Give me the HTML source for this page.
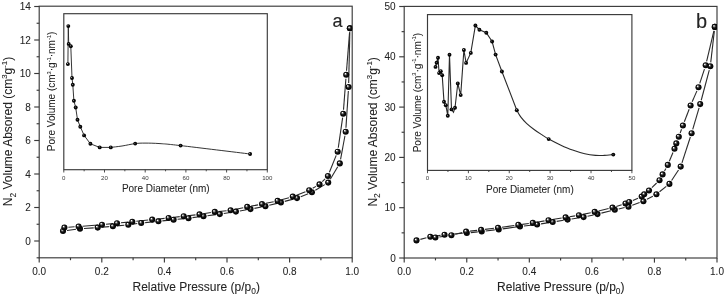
<!DOCTYPE html>
<html lang="en"><head><meta charset="utf-8"><title>N2 adsorption isotherms</title>
<style>html,body{margin:0;padding:0;background:#fff}svg{display:block}</style></head>
<body>
<svg width="725" height="295" viewBox="0 0 725 295" font-family="'Liberation Sans', Arial, sans-serif">
<defs>
<radialGradient id="sph" cx="0.5" cy="0.5" r="0.5" fx="0.33" fy="0.30">
<stop offset="0" stop-color="#fff"/><stop offset="0.1" stop-color="#fff"/><stop offset="0.3" stop-color="#6a6a6a"/><stop offset="0.55" stop-color="#121212"/><stop offset="1" stop-color="#000"/>
</radialGradient>
<radialGradient id="sphs" cx="0.5" cy="0.5" r="0.5" fx="0.38" fy="0.34">
<stop offset="0" stop-color="#bbb"/><stop offset="0.18" stop-color="#555"/><stop offset="0.4" stop-color="#0a0a0a"/><stop offset="1" stop-color="#000"/>
</radialGradient>
<clipPath id="ca"><rect x="39.2" y="6.2" width="313" height="251.6"/></clipPath>
<clipPath id="cb"><rect x="404.2" y="6.4" width="312.8" height="251.6"/></clipPath>
</defs>
<rect width="725" height="295" fill="#fff"/>
<rect x="39.20" y="6.20" width="313.00" height="251.60" fill="none" stroke="#3a3a3a" stroke-width="1.15"/>
<line x1="39.20" y1="257.80" x2="39.20" y2="262.40" stroke="#3a3a3a" stroke-width="1.15"/>
<text xml:space="preserve" x="39.20" y="274.90" font-size="10" text-anchor="middle" fill="#242424" stroke="#242424" stroke-width="0.06">0.0</text>
<line x1="70.50" y1="257.80" x2="70.50" y2="260.20" stroke="#3a3a3a" stroke-width="1.15"/>
<line x1="101.80" y1="257.80" x2="101.80" y2="262.40" stroke="#3a3a3a" stroke-width="1.15"/>
<text xml:space="preserve" x="101.80" y="274.90" font-size="10" text-anchor="middle" fill="#242424" stroke="#242424" stroke-width="0.06">0.2</text>
<line x1="133.10" y1="257.80" x2="133.10" y2="260.20" stroke="#3a3a3a" stroke-width="1.15"/>
<line x1="164.40" y1="257.80" x2="164.40" y2="262.40" stroke="#3a3a3a" stroke-width="1.15"/>
<text xml:space="preserve" x="164.40" y="274.90" font-size="10" text-anchor="middle" fill="#242424" stroke="#242424" stroke-width="0.06">0.4</text>
<line x1="195.70" y1="257.80" x2="195.70" y2="260.20" stroke="#3a3a3a" stroke-width="1.15"/>
<line x1="227.00" y1="257.80" x2="227.00" y2="262.40" stroke="#3a3a3a" stroke-width="1.15"/>
<text xml:space="preserve" x="227.00" y="274.90" font-size="10" text-anchor="middle" fill="#242424" stroke="#242424" stroke-width="0.06">0.6</text>
<line x1="258.30" y1="257.80" x2="258.30" y2="260.20" stroke="#3a3a3a" stroke-width="1.15"/>
<line x1="289.60" y1="257.80" x2="289.60" y2="262.40" stroke="#3a3a3a" stroke-width="1.15"/>
<text xml:space="preserve" x="289.60" y="274.90" font-size="10" text-anchor="middle" fill="#242424" stroke="#242424" stroke-width="0.06">0.8</text>
<line x1="320.90" y1="257.80" x2="320.90" y2="260.20" stroke="#3a3a3a" stroke-width="1.15"/>
<line x1="352.20" y1="257.80" x2="352.20" y2="262.40" stroke="#3a3a3a" stroke-width="1.15"/>
<text xml:space="preserve" x="352.20" y="274.90" font-size="10" text-anchor="middle" fill="#242424" stroke="#242424" stroke-width="0.06">1.0</text>
<line x1="34.20" y1="241.00" x2="39.20" y2="241.00" stroke="#3a3a3a" stroke-width="1.15"/>
<text xml:space="preserve" x="30.80" y="244.60" font-size="10" text-anchor="end" fill="#242424" stroke="#242424" stroke-width="0.06">0</text>
<line x1="36.60" y1="224.25" x2="39.20" y2="224.25" stroke="#3a3a3a" stroke-width="1.15"/>
<line x1="34.20" y1="207.50" x2="39.20" y2="207.50" stroke="#3a3a3a" stroke-width="1.15"/>
<text xml:space="preserve" x="30.80" y="211.10" font-size="10" text-anchor="end" fill="#242424" stroke="#242424" stroke-width="0.06">2</text>
<line x1="36.60" y1="190.75" x2="39.20" y2="190.75" stroke="#3a3a3a" stroke-width="1.15"/>
<line x1="34.20" y1="174.00" x2="39.20" y2="174.00" stroke="#3a3a3a" stroke-width="1.15"/>
<text xml:space="preserve" x="30.80" y="177.60" font-size="10" text-anchor="end" fill="#242424" stroke="#242424" stroke-width="0.06">4</text>
<line x1="36.60" y1="157.25" x2="39.20" y2="157.25" stroke="#3a3a3a" stroke-width="1.15"/>
<line x1="34.20" y1="140.50" x2="39.20" y2="140.50" stroke="#3a3a3a" stroke-width="1.15"/>
<text xml:space="preserve" x="30.80" y="144.10" font-size="10" text-anchor="end" fill="#242424" stroke="#242424" stroke-width="0.06">6</text>
<line x1="36.60" y1="123.75" x2="39.20" y2="123.75" stroke="#3a3a3a" stroke-width="1.15"/>
<line x1="34.20" y1="107.00" x2="39.20" y2="107.00" stroke="#3a3a3a" stroke-width="1.15"/>
<text xml:space="preserve" x="30.80" y="110.60" font-size="10" text-anchor="end" fill="#242424" stroke="#242424" stroke-width="0.06">8</text>
<line x1="36.60" y1="90.25" x2="39.20" y2="90.25" stroke="#3a3a3a" stroke-width="1.15"/>
<line x1="34.20" y1="73.50" x2="39.20" y2="73.50" stroke="#3a3a3a" stroke-width="1.15"/>
<text xml:space="preserve" x="30.80" y="77.10" font-size="10" text-anchor="end" fill="#242424" stroke="#242424" stroke-width="0.06">10</text>
<line x1="36.60" y1="56.75" x2="39.20" y2="56.75" stroke="#3a3a3a" stroke-width="1.15"/>
<line x1="34.20" y1="40.00" x2="39.20" y2="40.00" stroke="#3a3a3a" stroke-width="1.15"/>
<text xml:space="preserve" x="30.80" y="43.60" font-size="10" text-anchor="end" fill="#242424" stroke="#242424" stroke-width="0.06">12</text>
<line x1="36.60" y1="23.25" x2="39.20" y2="23.25" stroke="#3a3a3a" stroke-width="1.15"/>
<line x1="34.20" y1="6.50" x2="39.20" y2="6.50" stroke="#3a3a3a" stroke-width="1.15"/>
<text xml:space="preserve" x="30.80" y="10.10" font-size="10" text-anchor="end" fill="#242424" stroke="#242424" stroke-width="0.06">14</text>
<line x1="36.60" y1="257.80" x2="39.20" y2="257.80" stroke="#3a3a3a" stroke-width="1.15"/>
<text xml:space="preserve" x="12.40" y="131.50" font-size="12" text-anchor="middle" fill="#242424" stroke="#242424" stroke-width="0.07" transform="rotate(-90 12.40 131.50)"><tspan dy="0.00" font-size="12.00">N</tspan><tspan dy="3.12" font-size="8.40">2</tspan><tspan dy="-3.12" font-size="12.00"> Volume Absored (cm</tspan><tspan dy="-5.04" font-size="7.80">3</tspan><tspan dy="5.04" font-size="12.00">g</tspan><tspan dy="-5.04" font-size="7.80">-1</tspan><tspan dy="5.04" font-size="12.00">)</tspan></text>
<text xml:space="preserve" x="196.20" y="290.60" font-size="12" text-anchor="middle" fill="#242424" stroke="#242424" stroke-width="0.07"><tspan dy="0.00" font-size="12.00">Relative Pressure (p/p</tspan><tspan dy="3.12" font-size="8.40">0</tspan><tspan dy="-3.12" font-size="12.00">)</tspan></text>
<text xml:space="preserve" x="332.40" y="27.00" font-size="18" text-anchor="start" fill="#242424" stroke="#242424" stroke-width="0.11">a</text>
<rect x="63.80" y="13.70" width="203.50" height="156.00" fill="none" stroke="#3a3a3a" stroke-width="1.15"/>
<line x1="63.80" y1="169.70" x2="63.80" y2="172.50" stroke="#3a3a3a" stroke-width="0.9"/>
<text xml:space="preserve" x="63.80" y="179.80" font-size="6.1" text-anchor="middle" fill="#3a3a3a" stroke="#3a3a3a" stroke-width="0.00">0</text>
<line x1="84.15" y1="169.70" x2="84.15" y2="171.30" stroke="#3a3a3a" stroke-width="0.9"/>
<line x1="104.50" y1="169.70" x2="104.50" y2="172.50" stroke="#3a3a3a" stroke-width="0.9"/>
<text xml:space="preserve" x="104.50" y="179.80" font-size="6.1" text-anchor="middle" fill="#3a3a3a" stroke="#3a3a3a" stroke-width="0.00">20</text>
<line x1="124.85" y1="169.70" x2="124.85" y2="171.30" stroke="#3a3a3a" stroke-width="0.9"/>
<line x1="145.20" y1="169.70" x2="145.20" y2="172.50" stroke="#3a3a3a" stroke-width="0.9"/>
<text xml:space="preserve" x="145.20" y="179.80" font-size="6.1" text-anchor="middle" fill="#3a3a3a" stroke="#3a3a3a" stroke-width="0.00">40</text>
<line x1="165.55" y1="169.70" x2="165.55" y2="171.30" stroke="#3a3a3a" stroke-width="0.9"/>
<line x1="185.90" y1="169.70" x2="185.90" y2="172.50" stroke="#3a3a3a" stroke-width="0.9"/>
<text xml:space="preserve" x="185.90" y="179.80" font-size="6.1" text-anchor="middle" fill="#3a3a3a" stroke="#3a3a3a" stroke-width="0.00">60</text>
<line x1="206.25" y1="169.70" x2="206.25" y2="171.30" stroke="#3a3a3a" stroke-width="0.9"/>
<line x1="226.60" y1="169.70" x2="226.60" y2="172.50" stroke="#3a3a3a" stroke-width="0.9"/>
<text xml:space="preserve" x="226.60" y="179.80" font-size="6.1" text-anchor="middle" fill="#3a3a3a" stroke="#3a3a3a" stroke-width="0.00">80</text>
<line x1="246.95" y1="169.70" x2="246.95" y2="171.30" stroke="#3a3a3a" stroke-width="0.9"/>
<line x1="267.30" y1="169.70" x2="267.30" y2="172.50" stroke="#3a3a3a" stroke-width="0.9"/>
<text xml:space="preserve" x="267.30" y="179.80" font-size="6.1" text-anchor="middle" fill="#3a3a3a" stroke="#3a3a3a" stroke-width="0.00">100</text>
<text xml:space="preserve" x="55.00" y="91.40" font-size="10" text-anchor="middle" fill="#242424" stroke="#242424" stroke-width="0.06" transform="rotate(-90 55.00 91.40)"><tspan dy="0.00" font-size="10.00">Pore Volume (cm</tspan><tspan dy="-4.20" font-size="5.70">3</tspan><tspan dy="4.20" font-size="10.00">·g</tspan><tspan dy="-4.20" font-size="5.70">-1</tspan><tspan dy="4.20" font-size="10.00">·nm</tspan><tspan dy="-4.20" font-size="5.70">-1</tspan><tspan dy="4.20" font-size="10.00">)</tspan></text>
<text xml:space="preserve" x="165.80" y="191.70" font-size="10" text-anchor="middle" fill="#242424" stroke="#242424" stroke-width="0.06">Pore Diameter (nm)</text>
<rect x="404.20" y="6.40" width="312.80" height="251.60" fill="none" stroke="#3a3a3a" stroke-width="1.15"/>
<line x1="404.20" y1="258.00" x2="404.20" y2="262.60" stroke="#3a3a3a" stroke-width="1.15"/>
<text xml:space="preserve" x="404.20" y="274.90" font-size="10" text-anchor="middle" fill="#242424" stroke="#242424" stroke-width="0.06">0.0</text>
<line x1="435.48" y1="258.00" x2="435.48" y2="260.40" stroke="#3a3a3a" stroke-width="1.15"/>
<line x1="466.76" y1="258.00" x2="466.76" y2="262.60" stroke="#3a3a3a" stroke-width="1.15"/>
<text xml:space="preserve" x="466.76" y="274.90" font-size="10" text-anchor="middle" fill="#242424" stroke="#242424" stroke-width="0.06">0.2</text>
<line x1="498.04" y1="258.00" x2="498.04" y2="260.40" stroke="#3a3a3a" stroke-width="1.15"/>
<line x1="529.32" y1="258.00" x2="529.32" y2="262.60" stroke="#3a3a3a" stroke-width="1.15"/>
<text xml:space="preserve" x="529.32" y="274.90" font-size="10" text-anchor="middle" fill="#242424" stroke="#242424" stroke-width="0.06">0.4</text>
<line x1="560.60" y1="258.00" x2="560.60" y2="260.40" stroke="#3a3a3a" stroke-width="1.15"/>
<line x1="591.88" y1="258.00" x2="591.88" y2="262.60" stroke="#3a3a3a" stroke-width="1.15"/>
<text xml:space="preserve" x="591.88" y="274.90" font-size="10" text-anchor="middle" fill="#242424" stroke="#242424" stroke-width="0.06">0.6</text>
<line x1="623.16" y1="258.00" x2="623.16" y2="260.40" stroke="#3a3a3a" stroke-width="1.15"/>
<line x1="654.44" y1="258.00" x2="654.44" y2="262.60" stroke="#3a3a3a" stroke-width="1.15"/>
<text xml:space="preserve" x="654.44" y="274.90" font-size="10" text-anchor="middle" fill="#242424" stroke="#242424" stroke-width="0.06">0.8</text>
<line x1="685.72" y1="258.00" x2="685.72" y2="260.40" stroke="#3a3a3a" stroke-width="1.15"/>
<line x1="717.00" y1="258.00" x2="717.00" y2="262.60" stroke="#3a3a3a" stroke-width="1.15"/>
<text xml:space="preserve" x="717.00" y="274.90" font-size="10" text-anchor="middle" fill="#242424" stroke="#242424" stroke-width="0.06">1.0</text>
<line x1="399.20" y1="258.00" x2="404.20" y2="258.00" stroke="#3a3a3a" stroke-width="1.15"/>
<text xml:space="preserve" x="395.70" y="261.60" font-size="10" text-anchor="end" fill="#242424" stroke="#242424" stroke-width="0.06">0</text>
<line x1="401.60" y1="232.85" x2="404.20" y2="232.85" stroke="#3a3a3a" stroke-width="1.15"/>
<line x1="399.20" y1="207.70" x2="404.20" y2="207.70" stroke="#3a3a3a" stroke-width="1.15"/>
<text xml:space="preserve" x="395.70" y="211.30" font-size="10" text-anchor="end" fill="#242424" stroke="#242424" stroke-width="0.06">10</text>
<line x1="401.60" y1="182.55" x2="404.20" y2="182.55" stroke="#3a3a3a" stroke-width="1.15"/>
<line x1="399.20" y1="157.40" x2="404.20" y2="157.40" stroke="#3a3a3a" stroke-width="1.15"/>
<text xml:space="preserve" x="395.70" y="161.00" font-size="10" text-anchor="end" fill="#242424" stroke="#242424" stroke-width="0.06">20</text>
<line x1="401.60" y1="132.25" x2="404.20" y2="132.25" stroke="#3a3a3a" stroke-width="1.15"/>
<line x1="399.20" y1="107.10" x2="404.20" y2="107.10" stroke="#3a3a3a" stroke-width="1.15"/>
<text xml:space="preserve" x="395.70" y="110.70" font-size="10" text-anchor="end" fill="#242424" stroke="#242424" stroke-width="0.06">30</text>
<line x1="401.60" y1="81.95" x2="404.20" y2="81.95" stroke="#3a3a3a" stroke-width="1.15"/>
<line x1="399.20" y1="56.80" x2="404.20" y2="56.80" stroke="#3a3a3a" stroke-width="1.15"/>
<text xml:space="preserve" x="395.70" y="60.40" font-size="10" text-anchor="end" fill="#242424" stroke="#242424" stroke-width="0.06">40</text>
<line x1="401.60" y1="31.65" x2="404.20" y2="31.65" stroke="#3a3a3a" stroke-width="1.15"/>
<line x1="399.20" y1="6.50" x2="404.20" y2="6.50" stroke="#3a3a3a" stroke-width="1.15"/>
<text xml:space="preserve" x="395.70" y="10.10" font-size="10" text-anchor="end" fill="#242424" stroke="#242424" stroke-width="0.06">50</text>
<text xml:space="preserve" x="377.10" y="131.90" font-size="12" text-anchor="middle" fill="#242424" stroke="#242424" stroke-width="0.07" transform="rotate(-90 377.10 131.90)"><tspan dy="0.00" font-size="12.00">N</tspan><tspan dy="3.12" font-size="8.40">2</tspan><tspan dy="-3.12" font-size="12.00"> Volume Absored (cm</tspan><tspan dy="-5.04" font-size="7.80">3</tspan><tspan dy="5.04" font-size="12.00">g</tspan><tspan dy="-5.04" font-size="7.80">-1</tspan><tspan dy="5.04" font-size="12.00">)</tspan></text>
<text xml:space="preserve" x="560.80" y="290.60" font-size="12" text-anchor="middle" fill="#242424" stroke="#242424" stroke-width="0.07"><tspan dy="0.00" font-size="12.00">Relative Pressure (p/p</tspan><tspan dy="3.12" font-size="8.40">0</tspan><tspan dy="-3.12" font-size="12.00">)</tspan></text>
<text xml:space="preserve" x="696.00" y="27.70" font-size="20" text-anchor="start" fill="#242424" stroke="#242424" stroke-width="0.12">b</text>
<rect x="427.50" y="14.60" width="204.40" height="155.80" fill="none" stroke="#3a3a3a" stroke-width="1.15"/>
<line x1="427.50" y1="170.40" x2="427.50" y2="173.20" stroke="#3a3a3a" stroke-width="0.9"/>
<text xml:space="preserve" x="427.50" y="180.00" font-size="6.1" text-anchor="middle" fill="#3a3a3a" stroke="#3a3a3a" stroke-width="0.00">0</text>
<line x1="447.94" y1="170.40" x2="447.94" y2="172.00" stroke="#3a3a3a" stroke-width="0.9"/>
<line x1="468.38" y1="170.40" x2="468.38" y2="173.20" stroke="#3a3a3a" stroke-width="0.9"/>
<text xml:space="preserve" x="468.38" y="180.00" font-size="6.1" text-anchor="middle" fill="#3a3a3a" stroke="#3a3a3a" stroke-width="0.00">10</text>
<line x1="488.82" y1="170.40" x2="488.82" y2="172.00" stroke="#3a3a3a" stroke-width="0.9"/>
<line x1="509.26" y1="170.40" x2="509.26" y2="173.20" stroke="#3a3a3a" stroke-width="0.9"/>
<text xml:space="preserve" x="509.26" y="180.00" font-size="6.1" text-anchor="middle" fill="#3a3a3a" stroke="#3a3a3a" stroke-width="0.00">20</text>
<line x1="529.70" y1="170.40" x2="529.70" y2="172.00" stroke="#3a3a3a" stroke-width="0.9"/>
<line x1="550.14" y1="170.40" x2="550.14" y2="173.20" stroke="#3a3a3a" stroke-width="0.9"/>
<text xml:space="preserve" x="550.14" y="180.00" font-size="6.1" text-anchor="middle" fill="#3a3a3a" stroke="#3a3a3a" stroke-width="0.00">30</text>
<line x1="570.58" y1="170.40" x2="570.58" y2="172.00" stroke="#3a3a3a" stroke-width="0.9"/>
<line x1="591.02" y1="170.40" x2="591.02" y2="173.20" stroke="#3a3a3a" stroke-width="0.9"/>
<text xml:space="preserve" x="591.02" y="180.00" font-size="6.1" text-anchor="middle" fill="#3a3a3a" stroke="#3a3a3a" stroke-width="0.00">40</text>
<line x1="611.46" y1="170.40" x2="611.46" y2="172.00" stroke="#3a3a3a" stroke-width="0.9"/>
<line x1="631.90" y1="170.40" x2="631.90" y2="173.20" stroke="#3a3a3a" stroke-width="0.9"/>
<text xml:space="preserve" x="631.90" y="180.00" font-size="6.1" text-anchor="middle" fill="#3a3a3a" stroke="#3a3a3a" stroke-width="0.00">50</text>
<text xml:space="preserve" x="420.60" y="92.60" font-size="10" text-anchor="middle" fill="#242424" stroke="#242424" stroke-width="0.06" transform="rotate(-90 420.60 92.60)"><tspan dy="0.00" font-size="10.00">Pore Volume (cm</tspan><tspan dy="-4.20" font-size="5.70">3</tspan><tspan dy="4.20" font-size="10.00">·g</tspan><tspan dy="-4.20" font-size="5.70">-1</tspan><tspan dy="4.20" font-size="10.00">·nm</tspan><tspan dy="-4.20" font-size="5.70">-1</tspan><tspan dy="4.20" font-size="10.00">)</tspan></text>
<text xml:space="preserve" x="529.90" y="193.00" font-size="10" text-anchor="middle" fill="#242424" stroke="#242424" stroke-width="0.06">Pore Diameter (nm)</text>
<g clip-path="url(#ca)">
<line x1="66.96" y1="230.46" x2="76.04" y2="229.24" stroke="#2a2a2a" stroke-width="1.1"/>
<line x1="83.99" y1="228.45" x2="93.71" y2="227.85" stroke="#2a2a2a" stroke-width="1.1"/>
<line x1="101.69" y1="227.26" x2="108.91" y2="226.64" stroke="#2a2a2a" stroke-width="1.1"/>
<line x1="116.88" y1="225.91" x2="124.32" y2="225.19" stroke="#2a2a2a" stroke-width="1.1"/>
<line x1="132.26" y1="224.25" x2="137.24" y2="223.55" stroke="#2a2a2a" stroke-width="1.1"/>
<line x1="145.18" y1="222.61" x2="154.42" y2="221.69" stroke="#2a2a2a" stroke-width="1.1"/>
<line x1="162.38" y1="220.88" x2="169.62" y2="220.12" stroke="#2a2a2a" stroke-width="1.1"/>
<line x1="177.58" y1="219.30" x2="184.52" y2="218.60" stroke="#2a2a2a" stroke-width="1.1"/>
<line x1="192.46" y1="217.67" x2="199.54" y2="216.73" stroke="#2a2a2a" stroke-width="1.1"/>
<line x1="207.47" y1="215.69" x2="215.83" y2="214.61" stroke="#2a2a2a" stroke-width="1.1"/>
<line x1="223.75" y1="213.49" x2="231.95" y2="212.21" stroke="#2a2a2a" stroke-width="1.1"/>
<line x1="239.84" y1="210.92" x2="246.56" y2="209.78" stroke="#2a2a2a" stroke-width="1.1"/>
<line x1="254.43" y1="208.36" x2="261.47" y2="207.04" stroke="#2a2a2a" stroke-width="1.1"/>
<line x1="269.28" y1="205.32" x2="277.02" y2="203.38" stroke="#2a2a2a" stroke-width="1.1"/>
<line x1="284.76" y1="201.37" x2="293.14" y2="199.13" stroke="#2a2a2a" stroke-width="1.1"/>
<line x1="300.73" y1="196.65" x2="308.17" y2="193.75" stroke="#2a2a2a" stroke-width="1.1"/>
<line x1="315.34" y1="190.25" x2="324.76" y2="184.65" stroke="#2a2a2a" stroke-width="1.1"/>
<line x1="330.27" y1="179.18" x2="337.73" y2="166.82" stroke="#2a2a2a" stroke-width="1.1"/>
<line x1="340.53" y1="159.47" x2="344.97" y2="135.73" stroke="#2a2a2a" stroke-width="1.1"/>
<line x1="345.96" y1="127.81" x2="348.34" y2="90.99" stroke="#2a2a2a" stroke-width="1.1"/>
<line x1="348.69" y1="83.00" x2="349.81" y2="32.30" stroke="#2a2a2a" stroke-width="1.1"/>
<line x1="68.39" y1="227.22" x2="74.61" y2="226.78" stroke="#2a2a2a" stroke-width="1.1"/>
<line x1="82.59" y1="226.19" x2="98.01" y2="225.01" stroke="#2a2a2a" stroke-width="1.1"/>
<line x1="105.98" y1="224.30" x2="113.02" y2="223.60" stroke="#2a2a2a" stroke-width="1.1"/>
<line x1="120.98" y1="222.81" x2="128.32" y2="222.09" stroke="#2a2a2a" stroke-width="1.1"/>
<line x1="136.28" y1="221.28" x2="148.22" y2="220.02" stroke="#2a2a2a" stroke-width="1.1"/>
<line x1="156.18" y1="219.21" x2="164.62" y2="218.39" stroke="#2a2a2a" stroke-width="1.1"/>
<line x1="172.57" y1="217.53" x2="179.73" y2="216.67" stroke="#2a2a2a" stroke-width="1.1"/>
<line x1="187.67" y1="215.75" x2="195.53" y2="214.85" stroke="#2a2a2a" stroke-width="1.1"/>
<line x1="203.45" y1="213.75" x2="210.85" y2="212.55" stroke="#2a2a2a" stroke-width="1.1"/>
<line x1="218.78" y1="211.50" x2="226.62" y2="210.70" stroke="#2a2a2a" stroke-width="1.1"/>
<line x1="234.52" y1="209.50" x2="243.28" y2="207.70" stroke="#2a2a2a" stroke-width="1.1"/>
<line x1="251.13" y1="206.16" x2="258.07" y2="204.84" stroke="#2a2a2a" stroke-width="1.1"/>
<line x1="265.92" y1="203.30" x2="273.68" y2="201.70" stroke="#2a2a2a" stroke-width="1.1"/>
<line x1="281.45" y1="199.81" x2="288.95" y2="197.69" stroke="#2a2a2a" stroke-width="1.1"/>
<line x1="296.53" y1="195.15" x2="305.47" y2="191.65" stroke="#2a2a2a" stroke-width="1.1"/>
<line x1="312.69" y1="188.24" x2="316.01" y2="186.36" stroke="#2a2a2a" stroke-width="1.1"/>
<line x1="322.33" y1="181.57" x2="325.07" y2="178.83" stroke="#2a2a2a" stroke-width="1.1"/>
<line x1="329.40" y1="172.29" x2="336.20" y2="155.41" stroke="#2a2a2a" stroke-width="1.1"/>
<line x1="338.27" y1="147.74" x2="342.63" y2="117.66" stroke="#2a2a2a" stroke-width="1.1"/>
<line x1="343.51" y1="109.71" x2="345.89" y2="78.79" stroke="#2a2a2a" stroke-width="1.1"/>
<line x1="346.52" y1="70.81" x2="349.58" y2="32.29" stroke="#2a2a2a" stroke-width="1.1"/>
<circle cx="63.00" cy="231.00" r="3.05" fill="url(#sph)"/>
<circle cx="80.00" cy="228.70" r="3.05" fill="url(#sph)"/>
<circle cx="97.70" cy="227.60" r="3.05" fill="url(#sph)"/>
<circle cx="112.90" cy="226.30" r="3.05" fill="url(#sph)"/>
<circle cx="128.30" cy="224.80" r="3.05" fill="url(#sph)"/>
<circle cx="141.20" cy="223.00" r="3.05" fill="url(#sph)"/>
<circle cx="158.40" cy="221.30" r="3.05" fill="url(#sph)"/>
<circle cx="173.60" cy="219.70" r="3.05" fill="url(#sph)"/>
<circle cx="188.50" cy="218.20" r="3.05" fill="url(#sph)"/>
<circle cx="203.50" cy="216.20" r="3.05" fill="url(#sph)"/>
<circle cx="219.80" cy="214.10" r="3.05" fill="url(#sph)"/>
<circle cx="235.90" cy="211.60" r="3.05" fill="url(#sph)"/>
<circle cx="250.50" cy="209.10" r="3.05" fill="url(#sph)"/>
<circle cx="265.40" cy="206.30" r="3.05" fill="url(#sph)"/>
<circle cx="280.90" cy="202.40" r="3.05" fill="url(#sph)"/>
<circle cx="297.00" cy="198.10" r="3.05" fill="url(#sph)"/>
<circle cx="311.90" cy="192.30" r="3.05" fill="url(#sph)"/>
<circle cx="328.20" cy="182.60" r="3.05" fill="url(#sph)"/>
<circle cx="339.80" cy="163.40" r="3.05" fill="url(#sph)"/>
<circle cx="345.70" cy="131.80" r="3.05" fill="url(#sph)"/>
<circle cx="348.60" cy="87.00" r="3.05" fill="url(#sph)"/>
<circle cx="349.90" cy="28.30" r="3.05" fill="url(#sph)"/>
<circle cx="64.40" cy="227.50" r="3.05" fill="url(#sph)"/>
<circle cx="78.60" cy="226.50" r="3.05" fill="url(#sph)"/>
<circle cx="102.00" cy="224.70" r="3.05" fill="url(#sph)"/>
<circle cx="117.00" cy="223.20" r="3.05" fill="url(#sph)"/>
<circle cx="132.30" cy="221.70" r="3.05" fill="url(#sph)"/>
<circle cx="152.20" cy="219.60" r="3.05" fill="url(#sph)"/>
<circle cx="168.60" cy="218.00" r="3.05" fill="url(#sph)"/>
<circle cx="183.70" cy="216.20" r="3.05" fill="url(#sph)"/>
<circle cx="199.50" cy="214.40" r="3.05" fill="url(#sph)"/>
<circle cx="214.80" cy="211.90" r="3.05" fill="url(#sph)"/>
<circle cx="230.60" cy="210.30" r="3.05" fill="url(#sph)"/>
<circle cx="247.20" cy="206.90" r="3.05" fill="url(#sph)"/>
<circle cx="262.00" cy="204.10" r="3.05" fill="url(#sph)"/>
<circle cx="277.60" cy="200.90" r="3.05" fill="url(#sph)"/>
<circle cx="292.80" cy="196.60" r="3.05" fill="url(#sph)"/>
<circle cx="309.20" cy="190.20" r="3.05" fill="url(#sph)"/>
<circle cx="319.50" cy="184.40" r="3.05" fill="url(#sph)"/>
<circle cx="327.90" cy="176.00" r="3.05" fill="url(#sph)"/>
<circle cx="337.70" cy="151.70" r="3.05" fill="url(#sph)"/>
<circle cx="343.20" cy="113.70" r="3.05" fill="url(#sph)"/>
<circle cx="346.20" cy="74.80" r="3.05" fill="url(#sph)"/>
<circle cx="349.90" cy="28.30" r="3.05" fill="url(#sph)"/>
</g><g clip-path="url(#cb)">
<line x1="420.37" y1="239.39" x2="426.43" y2="237.81" stroke="#2a2a2a" stroke-width="1.1"/>
<line x1="434.26" y1="236.24" x2="440.54" y2="235.36" stroke="#2a2a2a" stroke-width="1.1"/>
<line x1="448.49" y1="234.48" x2="462.81" y2="233.32" stroke="#2a2a2a" stroke-width="1.1"/>
<line x1="470.78" y1="232.60" x2="477.72" y2="231.90" stroke="#2a2a2a" stroke-width="1.1"/>
<line x1="485.67" y1="231.01" x2="494.73" y2="229.89" stroke="#2a2a2a" stroke-width="1.1"/>
<line x1="502.66" y1="228.86" x2="516.04" y2="227.04" stroke="#2a2a2a" stroke-width="1.1"/>
<line x1="523.97" y1="226.04" x2="533.13" y2="224.96" stroke="#2a2a2a" stroke-width="1.1"/>
<line x1="541.05" y1="223.87" x2="548.75" y2="222.63" stroke="#2a2a2a" stroke-width="1.1"/>
<line x1="556.65" y1="221.36" x2="563.65" y2="220.24" stroke="#2a2a2a" stroke-width="1.1"/>
<line x1="571.55" y1="218.98" x2="579.65" y2="217.72" stroke="#2a2a2a" stroke-width="1.1"/>
<line x1="587.51" y1="216.26" x2="593.59" y2="214.94" stroke="#2a2a2a" stroke-width="1.1"/>
<line x1="601.38" y1="213.14" x2="610.92" y2="210.76" stroke="#2a2a2a" stroke-width="1.1"/>
<line x1="618.70" y1="208.92" x2="624.60" y2="207.58" stroke="#2a2a2a" stroke-width="1.1"/>
<line x1="632.25" y1="205.31" x2="639.65" y2="202.59" stroke="#2a2a2a" stroke-width="1.1"/>
<line x1="646.93" y1="199.32" x2="652.87" y2="196.18" stroke="#2a2a2a" stroke-width="1.1"/>
<line x1="659.52" y1="191.80" x2="666.28" y2="186.40" stroke="#2a2a2a" stroke-width="1.1"/>
<line x1="671.59" y1="180.55" x2="678.51" y2="169.95" stroke="#2a2a2a" stroke-width="1.1"/>
<line x1="681.94" y1="162.80" x2="690.36" y2="137.00" stroke="#2a2a2a" stroke-width="1.1"/>
<line x1="692.73" y1="129.36" x2="699.07" y2="107.94" stroke="#2a2a2a" stroke-width="1.1"/>
<line x1="701.23" y1="100.24" x2="709.27" y2="70.16" stroke="#2a2a2a" stroke-width="1.1"/>
<line x1="710.75" y1="62.33" x2="714.35" y2="30.87" stroke="#2a2a2a" stroke-width="1.1"/>
<line x1="439.36" y1="236.93" x2="447.44" y2="235.77" stroke="#2a2a2a" stroke-width="1.1"/>
<line x1="455.29" y1="234.25" x2="462.21" y2="232.55" stroke="#2a2a2a" stroke-width="1.1"/>
<line x1="470.07" y1="231.15" x2="477.13" y2="230.35" stroke="#2a2a2a" stroke-width="1.1"/>
<line x1="485.07" y1="229.41" x2="494.03" y2="228.29" stroke="#2a2a2a" stroke-width="1.1"/>
<line x1="501.96" y1="227.23" x2="514.34" y2="225.47" stroke="#2a2a2a" stroke-width="1.1"/>
<line x1="522.26" y1="224.35" x2="528.84" y2="223.45" stroke="#2a2a2a" stroke-width="1.1"/>
<line x1="536.74" y1="222.22" x2="544.56" y2="220.88" stroke="#2a2a2a" stroke-width="1.1"/>
<line x1="552.45" y1="219.55" x2="561.65" y2="218.05" stroke="#2a2a2a" stroke-width="1.1"/>
<line x1="569.55" y1="216.75" x2="574.95" y2="215.85" stroke="#2a2a2a" stroke-width="1.1"/>
<line x1="582.82" y1="214.38" x2="590.78" y2="212.72" stroke="#2a2a2a" stroke-width="1.1"/>
<line x1="598.59" y1="210.96" x2="608.61" y2="208.54" stroke="#2a2a2a" stroke-width="1.1"/>
<line x1="616.31" y1="206.40" x2="621.69" y2="204.70" stroke="#2a2a2a" stroke-width="1.1"/>
<line x1="632.87" y1="200.41" x2="638.03" y2="198.19" stroke="#2a2a2a" stroke-width="1.1"/>
<line x1="651.86" y1="187.70" x2="656.64" y2="183.00" stroke="#2a2a2a" stroke-width="1.1"/>
<line x1="664.52" y1="170.89" x2="665.88" y2="168.41" stroke="#2a2a2a" stroke-width="1.1"/>
<line x1="669.34" y1="161.21" x2="672.96" y2="152.49" stroke="#2a2a2a" stroke-width="1.1"/>
<line x1="680.18" y1="132.94" x2="681.52" y2="129.26" stroke="#2a2a2a" stroke-width="1.1"/>
<line x1="684.34" y1="121.77" x2="689.16" y2="109.23" stroke="#2a2a2a" stroke-width="1.1"/>
<line x1="692.19" y1="101.83" x2="696.91" y2="90.87" stroke="#2a2a2a" stroke-width="1.1"/>
<line x1="699.75" y1="83.40" x2="704.45" y2="69.10" stroke="#2a2a2a" stroke-width="1.1"/>
<line x1="706.62" y1="61.41" x2="713.88" y2="30.79" stroke="#2a2a2a" stroke-width="1.1"/>
<circle cx="416.50" cy="240.40" r="3.05" fill="url(#sph)"/>
<circle cx="430.30" cy="236.80" r="3.05" fill="url(#sph)"/>
<circle cx="444.50" cy="234.80" r="3.05" fill="url(#sph)"/>
<circle cx="466.80" cy="233.00" r="3.05" fill="url(#sph)"/>
<circle cx="481.70" cy="231.50" r="3.05" fill="url(#sph)"/>
<circle cx="498.70" cy="229.40" r="3.05" fill="url(#sph)"/>
<circle cx="520.00" cy="226.50" r="3.05" fill="url(#sph)"/>
<circle cx="537.10" cy="224.50" r="3.05" fill="url(#sph)"/>
<circle cx="552.70" cy="222.00" r="3.05" fill="url(#sph)"/>
<circle cx="567.60" cy="219.60" r="3.05" fill="url(#sph)"/>
<circle cx="583.60" cy="217.10" r="3.05" fill="url(#sph)"/>
<circle cx="597.50" cy="214.10" r="3.05" fill="url(#sph)"/>
<circle cx="614.80" cy="209.80" r="3.05" fill="url(#sph)"/>
<circle cx="628.50" cy="206.70" r="3.05" fill="url(#sph)"/>
<circle cx="643.40" cy="201.20" r="3.05" fill="url(#sph)"/>
<circle cx="656.40" cy="194.30" r="3.05" fill="url(#sph)"/>
<circle cx="669.40" cy="183.90" r="3.05" fill="url(#sph)"/>
<circle cx="680.70" cy="166.60" r="3.05" fill="url(#sph)"/>
<circle cx="691.60" cy="133.20" r="3.05" fill="url(#sph)"/>
<circle cx="700.20" cy="104.10" r="3.05" fill="url(#sph)"/>
<circle cx="710.30" cy="66.30" r="3.05" fill="url(#sph)"/>
<circle cx="714.80" cy="26.90" r="3.05" fill="url(#sph)"/>
<circle cx="435.40" cy="237.50" r="3.05" fill="url(#sph)"/>
<circle cx="451.40" cy="235.20" r="3.05" fill="url(#sph)"/>
<circle cx="466.10" cy="231.60" r="3.05" fill="url(#sph)"/>
<circle cx="481.10" cy="229.90" r="3.05" fill="url(#sph)"/>
<circle cx="498.00" cy="227.80" r="3.05" fill="url(#sph)"/>
<circle cx="518.30" cy="224.90" r="3.05" fill="url(#sph)"/>
<circle cx="532.80" cy="222.90" r="3.05" fill="url(#sph)"/>
<circle cx="548.50" cy="220.20" r="3.05" fill="url(#sph)"/>
<circle cx="565.60" cy="217.40" r="3.05" fill="url(#sph)"/>
<circle cx="578.90" cy="215.20" r="3.05" fill="url(#sph)"/>
<circle cx="594.70" cy="211.90" r="3.05" fill="url(#sph)"/>
<circle cx="612.50" cy="207.60" r="3.05" fill="url(#sph)"/>
<circle cx="625.50" cy="203.50" r="3.05" fill="url(#sph)"/>
<circle cx="629.20" cy="202.00" r="3.05" fill="url(#sph)"/>
<circle cx="641.70" cy="196.60" r="3.05" fill="url(#sph)"/>
<circle cx="644.20" cy="194.30" r="3.05" fill="url(#sph)"/>
<circle cx="649.00" cy="190.50" r="3.05" fill="url(#sph)"/>
<circle cx="659.50" cy="180.20" r="3.05" fill="url(#sph)"/>
<circle cx="662.60" cy="174.40" r="3.05" fill="url(#sph)"/>
<circle cx="667.80" cy="164.90" r="3.05" fill="url(#sph)"/>
<circle cx="674.50" cy="148.80" r="3.05" fill="url(#sph)"/>
<circle cx="676.30" cy="143.40" r="3.05" fill="url(#sph)"/>
<circle cx="678.80" cy="136.70" r="3.05" fill="url(#sph)"/>
<circle cx="682.90" cy="125.50" r="3.05" fill="url(#sph)"/>
<circle cx="690.60" cy="105.50" r="3.05" fill="url(#sph)"/>
<circle cx="698.50" cy="87.20" r="3.05" fill="url(#sph)"/>
<circle cx="705.70" cy="65.30" r="3.05" fill="url(#sph)"/>
<circle cx="714.80" cy="26.90" r="3.05" fill="url(#sph)"/>
</g>
<path d="M67.90,64.10 L68.30,26.10 L68.70,43.90 L70.80,46.30 L72.00,78.00 L72.80,84.80 L73.90,100.80 L75.70,107.50 L77.50,119.80 L80.30,126.70 L84.10,135.40 L90.40,143.80 L99.70,147.40 L110.80,147.40" fill="none" stroke="#2a2a2a" stroke-width="0.95"/>
<path d="M110.80,147.40 C112.67,147.17 117.93,146.63 122.00,146.00 C126.07,145.37 131.37,144.08 135.20,143.60 C139.03,143.12 140.87,143.10 145.00,143.10 C149.13,143.10 154.07,143.18 160.00,143.60 C165.93,144.02 165.58,143.87 180.60,145.60 C195.62,147.33 238.52,152.60 250.10,154.00" fill="none" stroke="#2a2a2a" stroke-width="0.95"/>
<circle cx="67.90" cy="64.10" r="1.95" fill="url(#sphs)"/>
<circle cx="68.30" cy="26.10" r="1.95" fill="url(#sphs)"/>
<circle cx="68.70" cy="43.90" r="1.95" fill="url(#sphs)"/>
<circle cx="70.80" cy="46.30" r="1.95" fill="url(#sphs)"/>
<circle cx="72.00" cy="78.00" r="1.95" fill="url(#sphs)"/>
<circle cx="72.80" cy="84.80" r="1.95" fill="url(#sphs)"/>
<circle cx="73.90" cy="100.80" r="1.95" fill="url(#sphs)"/>
<circle cx="75.70" cy="107.50" r="1.95" fill="url(#sphs)"/>
<circle cx="77.50" cy="119.80" r="1.95" fill="url(#sphs)"/>
<circle cx="80.30" cy="126.70" r="1.95" fill="url(#sphs)"/>
<circle cx="84.10" cy="135.40" r="1.95" fill="url(#sphs)"/>
<circle cx="90.40" cy="143.80" r="1.95" fill="url(#sphs)"/>
<circle cx="99.70" cy="147.40" r="1.95" fill="url(#sphs)"/>
<circle cx="110.80" cy="147.40" r="1.95" fill="url(#sphs)"/>
<circle cx="135.20" cy="143.60" r="1.95" fill="url(#sphs)"/>
<circle cx="180.60" cy="145.60" r="1.95" fill="url(#sphs)"/>
<circle cx="250.10" cy="154.00" r="1.95" fill="url(#sphs)"/>
<path d="M435.50,66.90 L436.60,62.70 L438.00,57.70 L439.10,73.10 L440.80,71.20 L442.20,75.20 L444.00,101.80 L445.80,105.20 L447.80,115.80 L449.50,54.70 L451.50,109.40 L453.50,112.30 L455.00,107.70 L457.80,83.50 L460.70,95.10 L463.90,50.00 L466.10,62.90 L470.80,52.90 L475.40,25.50 L479.40,29.70 L486.30,32.70 L492.10,41.50 L495.60,54.60 L501.90,71.50 L516.80,110.20" fill="none" stroke="#2a2a2a" stroke-width="1.1"/>
<path d="M516.80,110.20 C517.45,111.32 519.03,114.67 520.70,116.90 C522.37,119.13 524.52,121.47 526.80,123.60 C529.08,125.73 531.85,127.82 534.40,129.70 C536.95,131.58 539.72,133.35 542.10,134.90 C544.48,136.45 545.65,137.33 548.70,139.00 C551.75,140.67 556.42,143.05 560.40,144.90 C564.38,146.75 568.53,148.62 572.60,150.10 C576.67,151.58 580.98,152.92 584.80,153.80 C588.62,154.68 592.30,155.13 595.50,155.40 C598.70,155.67 601.03,155.53 604.00,155.40 C606.97,155.27 611.75,154.73 613.30,154.60" fill="none" stroke="#2a2a2a" stroke-width="1.1"/>
<circle cx="435.50" cy="66.90" r="1.95" fill="url(#sphs)"/>
<circle cx="436.60" cy="62.70" r="1.95" fill="url(#sphs)"/>
<circle cx="438.00" cy="57.70" r="1.95" fill="url(#sphs)"/>
<circle cx="439.10" cy="73.10" r="1.95" fill="url(#sphs)"/>
<circle cx="440.80" cy="71.20" r="1.95" fill="url(#sphs)"/>
<circle cx="442.20" cy="75.20" r="1.95" fill="url(#sphs)"/>
<circle cx="444.00" cy="101.80" r="1.95" fill="url(#sphs)"/>
<circle cx="445.80" cy="105.20" r="1.95" fill="url(#sphs)"/>
<circle cx="447.80" cy="115.80" r="1.95" fill="url(#sphs)"/>
<circle cx="449.50" cy="54.70" r="1.95" fill="url(#sphs)"/>
<circle cx="451.50" cy="109.40" r="1.95" fill="url(#sphs)"/>
<circle cx="455.00" cy="107.70" r="1.95" fill="url(#sphs)"/>
<circle cx="457.80" cy="83.50" r="1.95" fill="url(#sphs)"/>
<circle cx="460.70" cy="95.10" r="1.95" fill="url(#sphs)"/>
<circle cx="463.90" cy="50.00" r="1.95" fill="url(#sphs)"/>
<circle cx="466.10" cy="62.90" r="1.95" fill="url(#sphs)"/>
<circle cx="470.80" cy="52.90" r="1.95" fill="url(#sphs)"/>
<circle cx="475.40" cy="25.50" r="1.95" fill="url(#sphs)"/>
<circle cx="479.40" cy="29.70" r="1.95" fill="url(#sphs)"/>
<circle cx="486.30" cy="32.70" r="1.95" fill="url(#sphs)"/>
<circle cx="492.10" cy="41.50" r="1.95" fill="url(#sphs)"/>
<circle cx="495.60" cy="54.60" r="1.95" fill="url(#sphs)"/>
<circle cx="501.90" cy="71.50" r="1.95" fill="url(#sphs)"/>
<circle cx="516.80" cy="110.20" r="1.95" fill="url(#sphs)"/>
<circle cx="548.70" cy="139.10" r="1.95" fill="url(#sphs)"/>
<circle cx="613.30" cy="154.60" r="1.95" fill="url(#sphs)"/>
</svg>
</body></html>
